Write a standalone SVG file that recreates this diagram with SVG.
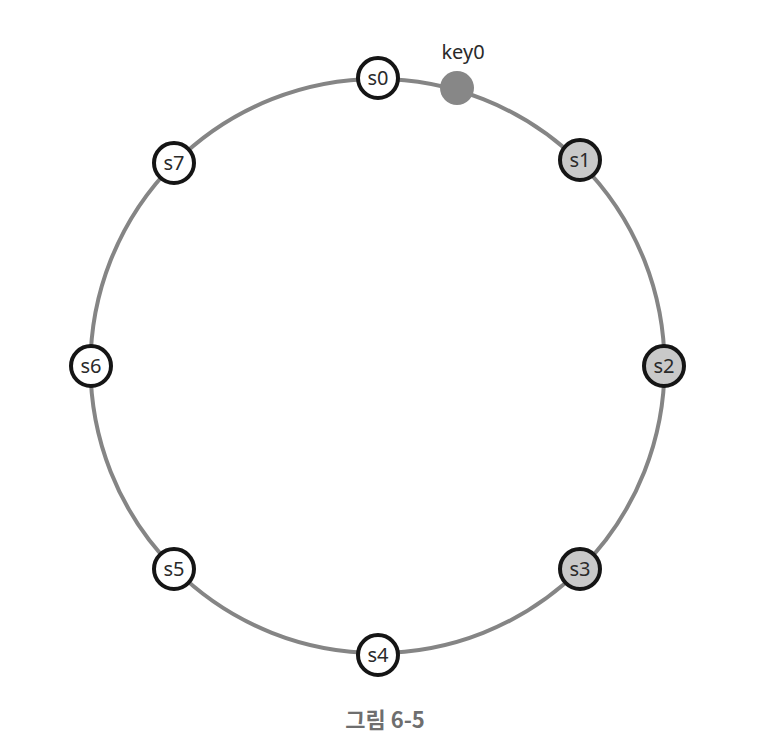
<svg xmlns="http://www.w3.org/2000/svg" width="776" height="756" viewBox="0 0 776 756">
<style>
.node{stroke:#151515;stroke-width:4}
.w{fill:#fff}
.g{fill:#c9c9c9}
.lbl{font-family:"Noto Sans","Open Sans",sans-serif;font-size:20px;fill:#2a2a2a;text-anchor:middle}
</style>
<rect width="776" height="756" fill="#fff"/>
<g id="connectors">
<circle cx="377.5" cy="366" r="287" fill="none" stroke="#858585" stroke-width="4"/>
</g>
<g id="key0">
<circle cx="457" cy="88" r="17" fill="#878787"/>
<text class="lbl" x="463" y="59">key0</text>
</g>
<g id="s0"><circle class="node w" cx="378" cy="78" r="20"/><text class="lbl" x="378" y="85">s0</text></g>
<g id="s1"><circle class="node g" cx="580" cy="160" r="20"/><text class="lbl" x="580" y="167">s1</text></g>
<g id="s2"><circle class="node g" cx="664" cy="366" r="20"/><text class="lbl" x="664" y="373">s2</text></g>
<g id="s3"><circle class="node g" cx="580" cy="569" r="20"/><text class="lbl" x="580" y="576">s3</text></g>
<g id="s4"><circle class="node w" cx="378" cy="655" r="20"/><text class="lbl" x="378" y="662">s4</text></g>
<g id="s5"><circle class="node w" cx="174" cy="569" r="20"/><text class="lbl" x="174" y="576">s5</text></g>
<g id="s6"><circle class="node w" cx="91" cy="366" r="20"/><text class="lbl" x="91" y="373">s6</text></g>
<g id="s7"><circle class="node w" cx="174" cy="163" r="20"/><text class="lbl" x="174" y="170">s7</text></g>
<text x="385" y="728" font-family="'Noto Sans CJK KR',sans-serif" font-size="22" font-weight="bold" fill="#6e6e6e" text-anchor="middle">그림 6-5</text>
</svg>
